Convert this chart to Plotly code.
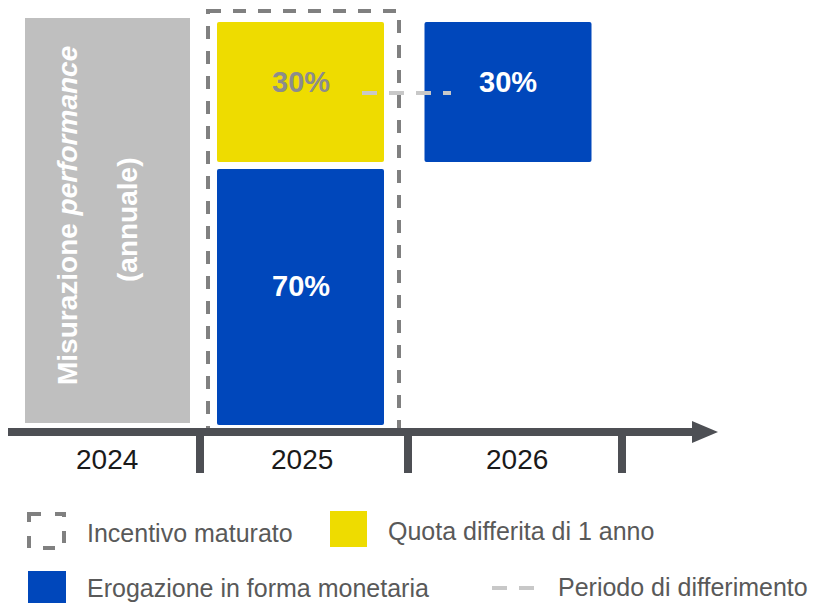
import plotly.graph_objects as go

# ---------------- data ----------------
years = ["2024", "2025", "2026"]
measure_line1 = "Misurazione <i>performance</i>"
measure_line2 = "(annuale)"
share_paid = [70, 30]          # 2025 upfront cash, 2026 deferred cash
share_deferred = [30]          # 2025 portion deferred by 1 year
legend_labels = ["Incentivo maturato", "Quota differita di 1 anno",
                 "Erogazione in forma monetaria", "Periodo di differimento"]

# ---------------- style / layout ----------------
FONT = "Liberation Sans, Arial, sans-serif"
GRAY_BLOCK = "#bfbfbf"
YELLOW = "#eedc00"
BLUE = "#0047bb"
AXIS = "#4d4f54"
BOX = "#808080"
CONN = "#c8c8c8"
W, H = 822, 603
PAGE_MARGIN = 8   # default body margin of the html page

col_center = {"2024": 107.5, "2025": 300.5, "2026": 508}
col_width = {"2024": 165, "2025": 167, "2026": 167}
row_top = {"upper": 22, "lower": 169}
row_h = {"upper": 140, "lower": 256}

fig = go.Figure()

# measurement block (2024)
fig.add_trace(go.Bar(x=[col_center[years[0]]], y=[405], base=[18],
                     width=[col_width[years[0]]], marker=dict(color=GRAY_BLOCK, line_width=0),
                     showlegend=False, hoverinfo="skip"))
# cash paid (2025 lower, 2026 upper)
paid_years = [years[1], years[2]]
paid_rows = ["lower", "upper"]
fig.add_trace(go.Bar(x=[col_center[y] for y in paid_years],
                     y=[row_h[r] for r in paid_rows],
                     base=[row_top[r] for r in paid_rows],
                     width=[col_width[y] for y in paid_years],
                     marker=dict(color=BLUE, line_width=0, cornerradius=2),
                     showlegend=False, hoverinfo="skip"))
# deferred quota (2025 upper)
fig.add_trace(go.Bar(x=[col_center[years[1]]], y=[row_h["upper"]], base=[row_top["upper"]],
                     width=[col_width[years[1]]], marker=dict(color=YELLOW, line_width=0, cornerradius=2),
                     showlegend=False, hoverinfo="skip"))

shapes = []
# dashed accrued-incentive box
shapes.append(dict(type="rect", x0=208, x1=399, y0=11, y1=434,
                   line=dict(color=BOX, width=4, dash="13px,12px"), layer="above"))
# timeline axis
shapes.append(dict(type="line", x0=8, x1=696, y0=432, y1=432,
                   line=dict(color=AXIS, width=8), layer="above"))
shapes.append(dict(type="path", path="M 692 421 L 718 432 L 692 443 Z",
                   fillcolor=AXIS, line=dict(color=AXIS, width=0), layer="above"))
for tx in [200, 408, 622]:
    shapes.append(dict(type="line", x0=tx, x1=tx, y0=432, y1=473,
                       line=dict(color=AXIS, width=8), layer="above"))
# deferral connector
shapes.append(dict(type="line", x0=362, x1=451, y0=93, y1=93,
                   line=dict(color=CONN, width=4, dash="15px,12px"), layer="above"))

# legend icons
shapes.append(dict(type="rect", x0=29, x1=64, y0=514, y1=548,
                   line=dict(color=BOX, width=4, dash="12px,14px"), layer="above"))
shapes.append(dict(type="rect", x0=330, x1=367, y0=511, y1=547,
                   fillcolor=YELLOW, line=dict(width=0), layer="above"))
shapes.append(dict(type="rect", x0=28, x1=66, y0=571, y1=610,
                   fillcolor=BLUE, line=dict(width=0), layer="above"))
shapes.append(dict(type="line", x0=492, x1=535, y0=588, y1=588,
                   line=dict(color=CONN, width=4, dash="15px,12px"), layer="above"))

ann = []
# vertical text in measurement block
ann.append(dict(x=67, y=216, text="<b>" + measure_line1 + "</b>", textangle=-90,
                font=dict(family=FONT, size=28, color="white")))
ann.append(dict(x=127, y=220, text="<b>" + measure_line2 + "</b>", textangle=-90,
                font=dict(family=FONT, size=28, color="white")))
# percentages
ann.append(dict(x=col_center[years[1]], y=82, text="<b>%d%%</b>" % share_deferred[0],
                font=dict(family=FONT, size=29, color="#8c8c8c")))
ann.append(dict(x=col_center[years[1]], y=286, text="<b>%d%%</b>" % share_paid[0],
                font=dict(family=FONT, size=29, color="white")))
ann.append(dict(x=col_center[years[2]], y=82, text="<b>%d%%</b>" % share_paid[1],
                font=dict(family=FONT, size=29, color="white")))
# year labels
for yr, xc in zip(years, [107, 302, 517]):
    ann.append(dict(x=xc, y=459, text=yr, font=dict(family=FONT, size=28, color="#1a1a1a")))
# legend labels
for lab, lx, ly in zip(legend_labels, [85, 386, 85, 556], [533, 531, 588, 587]):
    ann.append(dict(x=lx, y=ly, text=lab, xanchor="left",
                    font=dict(family=FONT, size=25, color="#595959")))

for a in ann:
    a.update(xref="x", yref="y", showarrow=False)
    a.setdefault("xanchor", "center")
    a.setdefault("yanchor", "middle")

fig.update_layout(
    width=W - PAGE_MARGIN, height=H - PAGE_MARGIN, margin=dict(l=0, r=0, t=0, b=0),
    paper_bgcolor="white", plot_bgcolor="white",
    barmode="overlay",
    xaxis=dict(range=[PAGE_MARGIN, W], visible=False, fixedrange=True),
    yaxis=dict(range=[H, PAGE_MARGIN], visible=False, fixedrange=True),
    shapes=shapes, annotations=ann, showlegend=False,
)

fig.write_html("out.html")
